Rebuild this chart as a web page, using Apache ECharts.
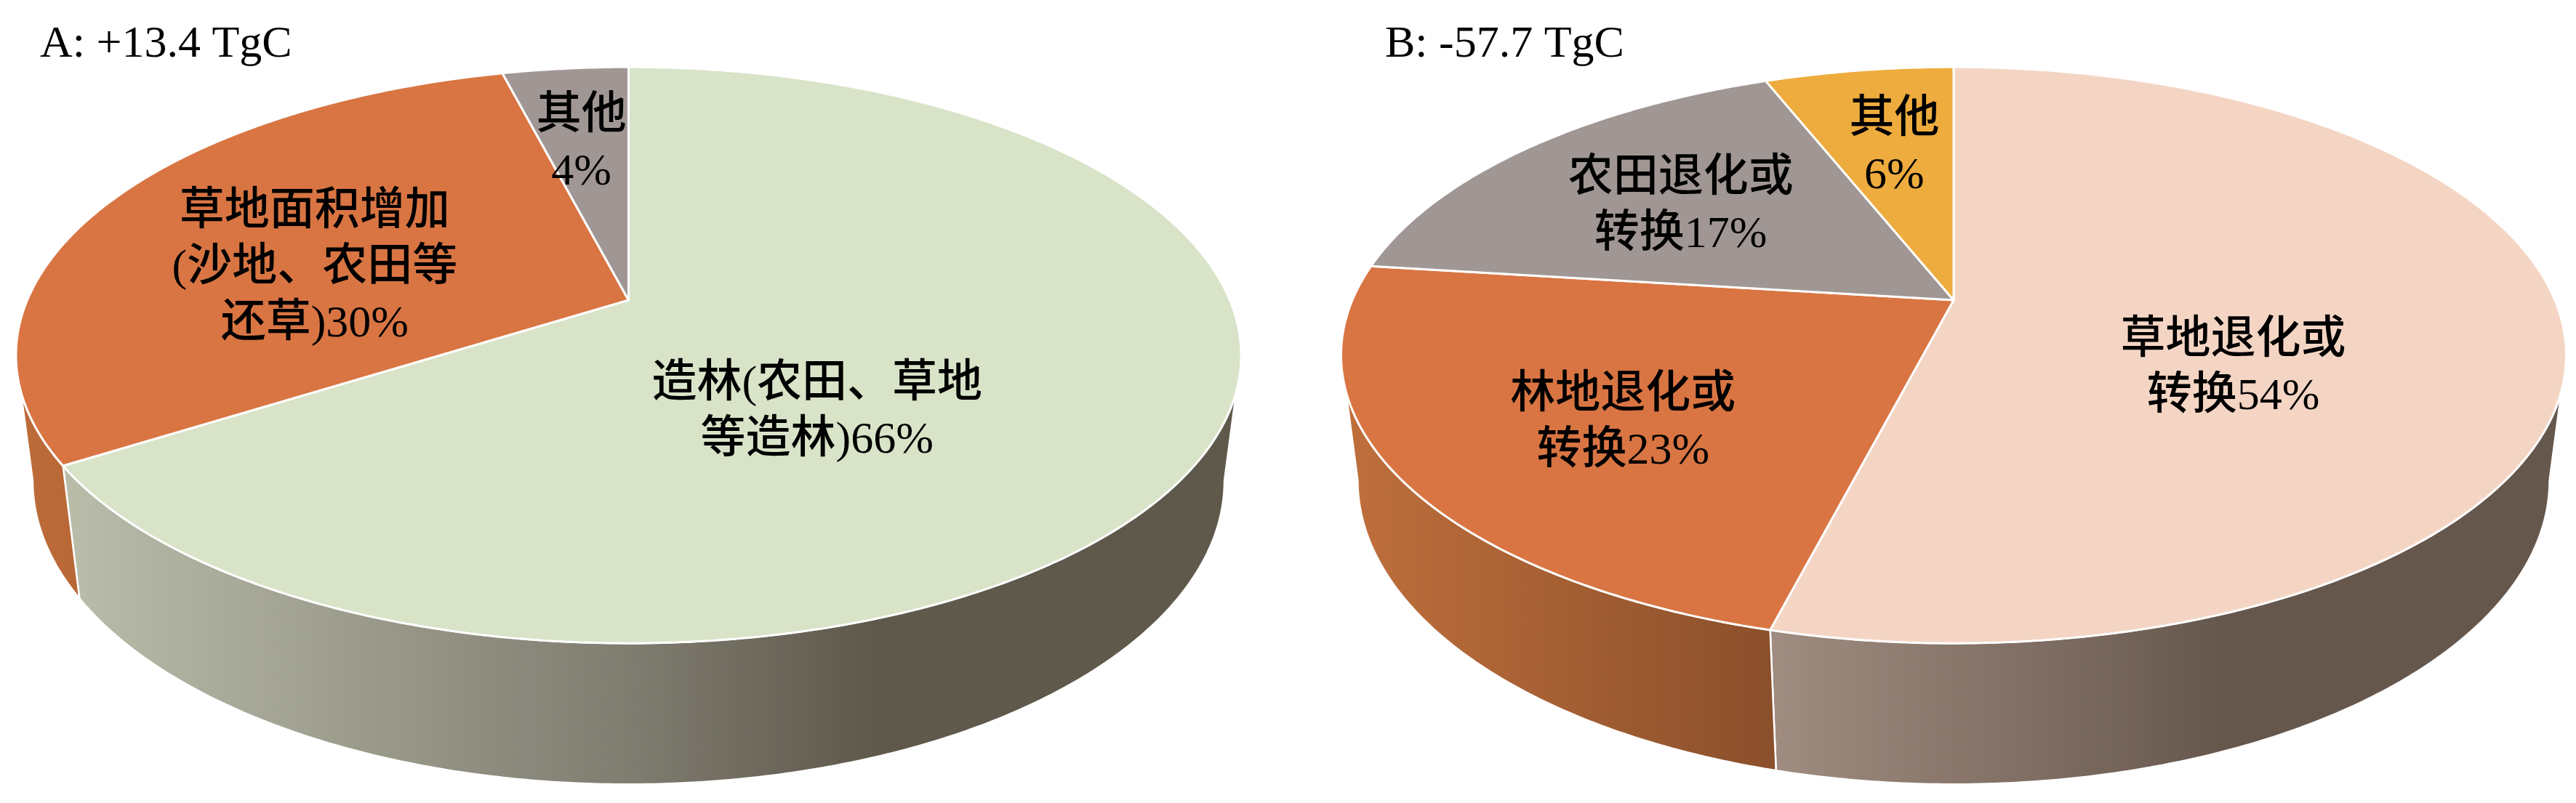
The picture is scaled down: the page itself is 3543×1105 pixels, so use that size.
<!DOCTYPE html>
<html><head><meta charset="utf-8">
<style>html,body{margin:0;padding:0;background:#fff}#c{width:3543px;height:1105px}</style>
<script src="https://cdn.jsdelivr.net/npm/echarts@6/dist/echarts.min.js"></script>
</head><body><div id="c"></div>
<script>
// ---- data ----
const titleA = 'A: +13.4 TgC';
const titleB = 'B: -57.7 TgC';
const namesA = ['造林(农田、草地\n等造林)66%', '草地面积增加\n(沙地、农田等\n还草)30%', '其他\n4%'];
const valuesA = [66, 30, 4];
const namesB = ['草地退化或\n转换54%', '林地退化或\n转换23%', '农田退化或\n转换17%', '其他\n6%'];
const valuesB = [54, 23, 17, 6];
// ---- styles ----
const topColorsA = ['#D8E3C8', '#D97543', '#A09795'];
const topColorsB = ['#F4D5C4', '#D97543', '#A09795', '#EEAC3E'];
const wallStopsA = [
  [[0, '#B9BCA9'], [0.69, '#807D71'], [1, '#5F594C']],
  [[0, '#BC6B39'], [1, '#B86836']],
  [[0, '#777777'], [1, '#777777']]
];
const wallStopsB = [
  [[0, '#A08C80'], [1, '#66574D']],
  [[0, '#BF6F3C'], [1, '#8A4F2B']],
  [[0, '#777777'], [1, '#777777']],
  [[0, '#999999'], [1, '#999999']]
];
const wallRangeA = [[100, 1200], [30, 110], [0, 1]];
const wallRangeB = [[2440, 3060], [1850, 2445], [0, 1], [0, 1]];
const labelFont = '"Liberation Serif","Noto Sans CJK SC",serif';
// projection of the tilted disc: pivot, half axes, perspective, depth
const geoA = {cx: 864.5, cy: 413, a: 827, b: 382, p: 0.191, q: 0.027, c: 175};
const geoB = {cx: 2687, cy: 413, a: 827, b: 382, p: 0.191, q: 0.027, c: 175};
// label anchor: radius fraction along the mid angle, then a nudge in px
const labelAnchorA = [[0.6, -201, 38], [0.6, 11, 38], [0.6, -9, -10]];
const labelAnchorB = [[0.6, -115, 66], [0.6, -16, 33], [0.6, -9, 3], [0.6, 2, -6]];

function project(g, r, theta, depth) {
  const u = r * Math.sin(theta), v = -r * Math.cos(theta);
  const w = 1 - g.p * v + g.q * depth;
  return [g.cx + g.a * u / w, g.cy + (g.b * v + g.c * depth) / w];
}
function spans(values) {
  const total = values.reduce((s, x) => s + x, 0);
  let acc = 0;
  return values.map(x => {
    const s = acc / total * 2 * Math.PI;
    acc += x;
    return [s, acc / total * 2 * Math.PI];
  });
}
function arc(g, r, t0, t1, depth) {
  const n = Math.max(2, Math.ceil(Math.abs(t1 - t0) / 0.01));
  const pts = [];
  for (let i = 0; i <= n; i++) pts.push(project(g, r, t0 + (t1 - t0) * i / n, depth));
  return pts;
}
function wallSeries(values, g, stops, ranges) {
  const sp = spans(values);
  // angles at which the rim's silhouette turns, for the top and the bottom disc
  const rTop = Math.acos(-g.p), rBot = Math.acos(-g.p / (1 + g.q));
  return {
    type: 'custom', coordinateSystem: 'none', silent: true, z: 1,
    data: values,
    renderItem(params) {
      const i = params.dataIndex, [t0, t1] = sp[i];
      const lTop = 2 * Math.PI - rTop, lBot = 2 * Math.PI - rBot;
      if (t1 <= Math.min(rTop, rBot) || t0 >= Math.max(lTop, lBot)) return null;
      const pts = arc(g, 1, Math.max(t0, rTop), Math.min(t1, lTop), 0)
        .concat(arc(g, 1, Math.min(t1, lBot), Math.max(t0, rBot), 1));
      return {
        type: 'polygon', shape: {points: pts},
        style: {
          fill: new echarts.graphic.LinearGradient(ranges[i][0], 0, ranges[i][1], 0,
            stops[i].map(s => ({offset: s[0], color: s[1]})), true),
          stroke: '#fff', lineWidth: 2.5, lineJoin: 'round'
        }
      };
    }
  };
}
function topSeries(values, names, g, colors, anchors) {
  const sp = spans(values);
  return {
    type: 'custom', coordinateSystem: 'none', silent: true, z: 2,
    data: values,
    renderItem(params) {
      const i = params.dataIndex, [t0, t1] = sp[i];
      const pts = [project(g, 0, 0, 0)].concat(arc(g, 1, t0, t1, 0));
      const an = anchors[i], pos = project(g, an[0], (t0 + t1) / 2, 0);
      return {
        type: 'group',
        children: [
          {type: 'polygon', shape: {points: pts}, style: {fill: colors[i], stroke: '#fff', lineWidth: 3, lineJoin: 'round'}},
          {type: 'text', z2: 10, x: pos[0] + an[1], y: pos[1] + an[2],
           style: {text: names[i], fontFamily: labelFont, fontSize: 62, fontWeight: 500, lineHeight: 77, fill: '#000', align: 'center', verticalAlign: 'middle'}}
        ]
      };
    }
  };
}
const chart = echarts.init(document.getElementById('c'), null, {renderer: 'canvas'});
chart.setOption({
  animation: false,
  backgroundColor: '#fff',
  title: [
    {text: titleA, left: 50, top: 26, textStyle: {fontFamily: labelFont, fontWeight: 'normal', fontSize: 62, color: '#000'}},
    {text: titleB, left: 1900, top: 26, textStyle: {fontFamily: labelFont, fontWeight: 'normal', fontSize: 62, color: '#000'}}
  ],
  series: [
    wallSeries(valuesA, geoA, wallStopsA, wallRangeA),
    topSeries(valuesA, namesA, geoA, topColorsA, labelAnchorA),
    wallSeries(valuesB, geoB, wallStopsB, wallRangeB),
    topSeries(valuesB, namesB, geoB, topColorsB, labelAnchorB)
  ]
});
</script></body></html>
